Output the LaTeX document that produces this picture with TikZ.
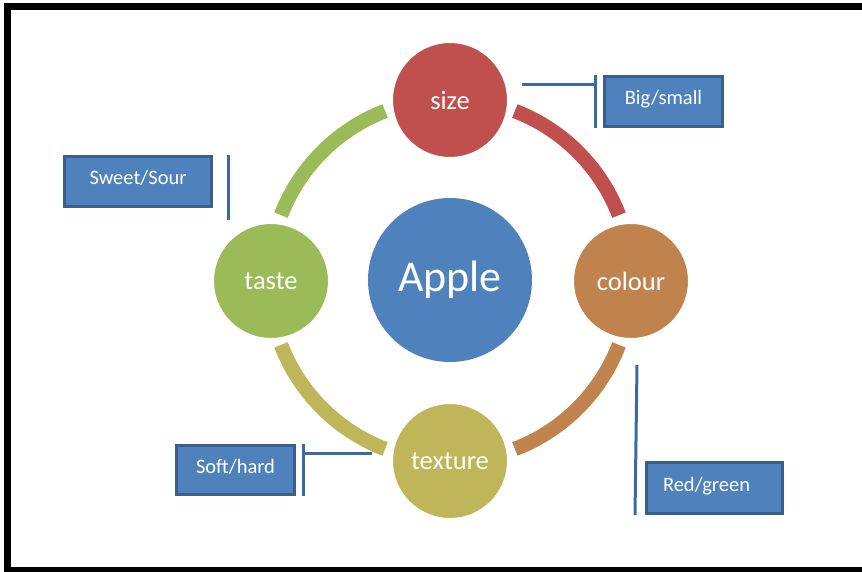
\documentclass[tikz,border=0pt]{standalone}
\usepackage{fontspec}
\setmainfont{Carlito}

\definecolor{sizered}{HTML}{C0504D}
\definecolor{colourbrown}{HTML}{C0834E}
\definecolor{textureolive}{HTML}{BFB65A}
\definecolor{tastegreen}{HTML}{9BBB59}
\definecolor{appleblue}{HTML}{4F81BD}
\definecolor{boxedge}{HTML}{3A5F8B}
\definecolor{tickblue}{HTML}{3C69A0}

\begin{document}
\begin{tikzpicture}[x=1pt,y=-1pt,
  ring/.style={line width=14.5pt},
  petal/.style={circle,draw=white,line width=2pt,minimum size=116pt,inner sep=0pt,
    text=white,font=\fontsize{26.5}{26.5}\selectfont},
  tagbox/.style={draw=boxedge,line width=3pt,fill=appleblue,inner sep=0pt,
    text height=14pt,text depth=8pt,
    text=white,font=\fontsize{20.5}{20.5}\selectfont},
  tick/.style={draw=tickblue,line width=3pt}]

% ============================================================
% page and frame
% ============================================================
\clip (0,0) rectangle (862,571);
\fill[white] (0,0) rectangle (862,571);
\draw[line width=6.5pt] (7.5,6.5) rectangle (875,570);

% ============================================================
% centre and ring
% ============================================================
\node[circle,fill=appleblue,minimum size=164pt,inner sep=0pt,text=white,
  font=\fontsize{44}{44}\selectfont] (Apple) at (450,280) {Apple};

% ring pieces, one per quarter
\foreach \a/\c in {21/colourbrown,111/textureolive,201/tastegreen,291/sizered}{
  \draw[ring,\c] (Apple.center) ++(\a:181) arc[start angle=\a,delta angle=48,radius=181];
}

% the four properties
\node[petal,fill=sizered]     (size)    at (450,100) {size};
\node[petal,fill=colourbrown] (colour)  at (631,281) {colour};
\node[petal,fill=textureolive](texture) at (450,461) {texture};
\node[petal,fill=tastegreen]  (taste)   at (271,281) {taste};

% ============================================================
% value tags
% ============================================================
\node[tagbox,minimum width=118pt,minimum height=50pt] (bigsmall)  at (663.5,101.5) {Big/small};
\node[tagbox,minimum width=147pt,minimum height=50pt] (sweetsour) at (138,181.5)   {Sweet/Sour};
\node[tagbox,minimum width=118pt,minimum height=49pt] (softhard)  at (235.5,470)   {Soft/hard};
\node[tagbox,minimum width=136pt,minimum height=51pt] (redgreen)  at (714.5,488)   {Red/green\hspace*{16pt}};

% brackets beside the tags
\coordinate (bstop) at (595,75);
\coordinate (bsbot) at (595,128);
\coordinate (bsfoot) at (522,84);
\draw[tick] (bstop) -- (bsbot);
\draw[tick] (bsfoot) -- (bsfoot -| bstop);

\coordinate (sstop) at (228,155);
\coordinate (ssbot) at (228,220);
\draw[tick] (sstop) -- (ssbot);

\coordinate (shtop) at (303,444);
\coordinate (shbot) at (303,496);
\coordinate (shfoot) at (372,453);
\draw[tick] (shtop) -- (shbot);
\draw[tick] (shfoot) -- (shfoot -| shtop);

\coordinate (rgtop) at (637,365);
\coordinate (rgbot) at (635,515);
\draw[tick] (rgtop) -- (rgbot);

\end{tikzpicture}
\end{document}
